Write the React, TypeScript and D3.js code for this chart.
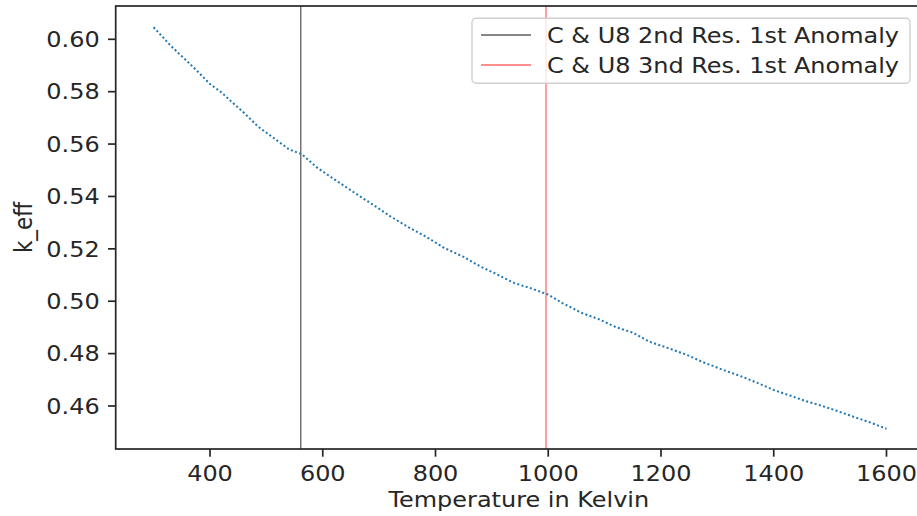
import React from "react";
import * as d3 from "d3";

const temps = [300, 330, 360, 380, 400, 420, 440, 460, 485, 510, 540, 563, 590, 620, 655, 695, 720, 755, 785, 815, 850, 880, 905, 940, 970, 1000, 1025, 1060, 1090, 1120, 1150, 1180, 1210, 1245, 1275, 1310, 1345, 1370, 1400, 1430, 1455, 1485, 1510, 1540, 1570, 1600];
const keff = [0.6046, 0.5976, 0.5915, 0.5873, 0.5829, 0.5798, 0.5758, 0.5720, 0.5667, 0.5628, 0.5580, 0.5561, 0.5510, 0.5466, 0.5416, 0.5360, 0.5324, 0.5279, 0.5244, 0.5204, 0.5169, 0.5132, 0.5107, 0.5069, 0.5049, 0.5025, 0.4993, 0.4955, 0.4931, 0.4901, 0.4880, 0.4845, 0.4823, 0.4796, 0.4767, 0.4738, 0.4711, 0.4689, 0.4661, 0.4639, 0.4620, 0.4601, 0.4583, 0.4560, 0.4538, 0.4513];
const xTicks = [400, 600, 800, 1000, 1200, 1400, 1600];
const yTicks = [0.46, 0.48, 0.5, 0.52, 0.54, 0.56, 0.58, 0.6];
const vLines = [561, 996];
const vLabels = ["C & U8 2nd Res. 1st Anomaly", "C & U8 3nd Res. 1st Anomaly"];
const vColors = ["#444", "#ff5050"];

const W = 917, H = 516;
const L = 115.7, R = 922, T = 6, B = 449;
const FONT = "DejaVu Sans, sans-serif";
const FS = 21.5;
const SX = 1.115;

function T2({ x, y, anchor, children, rotate }: { x: number; y: number; anchor?: string; children: React.ReactNode; rotate?: boolean }) {
  const tf = rotate
    ? `translate(${x},${y}) scale(${SX},1) rotate(-90)`
    : `translate(${x},${y}) scale(${SX},1)`;
  return (
    <text transform={tf} textAnchor={anchor || "start"} fontSize={FS} fill="#262626">{children}</text>
  );
}

export default function App() {
  const x = d3.scaleLinear().domain([232.7, 1663]).range([L, R]);
  const y = d3.scaleLinear().domain([0.44358, 0.61271]).range([B, T]);
  const pts = temps.map((t, i) => [t, keff[i]] as [number, number]);
  const line = d3.line<[number, number]>().x(d => x(d[0])).y(d => y(d[1]));
  return (
    <svg width={W} height={H} style={{ position: "absolute", left: 0, top: 0, background: "#fff" }} fontFamily={FONT}>
      <rect x={0} y={0} width={W} height={H} fill="#fff" />
      {vLines.map((v, i) => (
        <line key={i} x1={x(v)} x2={x(v)} y1={T} y2={B} stroke={vColors[i]} strokeWidth={1.3} opacity={0.85} />
      ))}
      <path d={line(pts) || ""} fill="none" stroke="#1f77b4" strokeWidth={2} strokeDasharray="2 2.4" />
      <rect x={L} y={T} width={R - L} height={B - T} fill="none" stroke="#262626" strokeWidth={1.7} />
      {xTicks.map(t => (
        <g key={t}>
          <line x1={x(t)} x2={x(t)} y1={B} y2={B + 7.7} stroke="#262626" strokeWidth={1.7} />
          <T2 x={x(t)} y={B + 31.5} anchor="middle">{t}</T2>
        </g>
      ))}
      {yTicks.map(t => (
        <g key={t}>
          <line x1={L - 7.7} x2={L} y1={y(t)} y2={y(t)} stroke="#262626" strokeWidth={1.7} />
          <T2 x={L - 16} y={y(t) + 7.8} anchor="end">{t.toFixed(2)}</T2>
        </g>
      ))}
      <T2 x={(L + R) / 2} y={507} anchor="middle">Temperature in Kelvin</T2>
      <T2 x={32} y={(T + B) / 2} anchor="middle" rotate>k_eff</T2>
      <rect x={472} y={18.3} width={438} height={65} rx={4} fill="#fff" fillOpacity={0.8} stroke="#d0d0d0" strokeWidth={1.4} />
      {vLabels.map((lab, i) => (
        <g key={i}>
          <line x1={481} x2={531} y1={35 + i * 30} y2={35 + i * 30} stroke={vColors[i]} strokeWidth={1.3} opacity={0.85} />
          <T2 x={547} y={35 + i * 30 + 7.8}>{lab}</T2>
        </g>
      ))}
    </svg>
  );
}
